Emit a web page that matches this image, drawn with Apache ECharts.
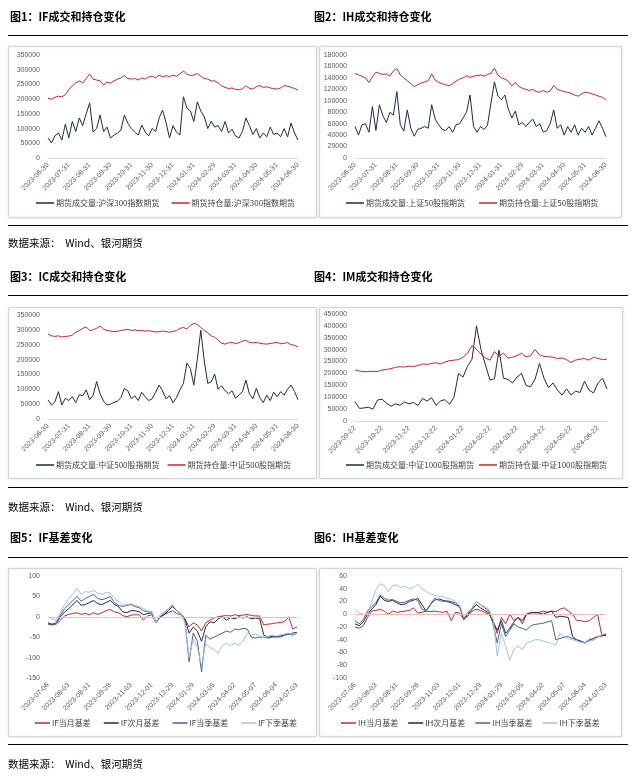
<!DOCTYPE html>
<html><head><meta charset="utf-8">
<script src="https://cdn.jsdelivr.net/npm/echarts@6/dist/echarts.min.js"></script>
<style>html,body{margin:0;padding:0;background:#fff}#c{width:637px;height:780px}</style>
</head><body><div id="c"></div><script>
// ---------- categories ----------
const datesA = ['2023-06-30',
'2023-07-05','2023-07-10','2023-07-14','2023-07-19','2023-07-25','2023-07-31',
'2023-08-04','2023-08-10','2023-08-15','2023-08-21','2023-08-25','2023-08-31',
'2023-09-06','2023-09-11','2023-09-15','2023-09-20','2023-09-25','2023-09-30',
'2023-10-11','2023-10-16','2023-10-19','2023-10-24','2023-10-27','2023-10-31',
'2023-11-06','2023-11-10','2023-11-15','2023-11-20','2023-11-24','2023-11-30',
'2023-12-06','2023-12-11','2023-12-15','2023-12-20','2023-12-25','2023-12-31',
'2024-01-05','2024-01-10','2024-01-15','2024-01-19','2024-01-25','2024-01-31',
'2024-02-05','2024-02-08','2024-02-20','2024-02-23','2024-02-27','2024-02-29',
'2024-03-06','2024-03-11','2024-03-15','2024-03-20','2024-03-25','2024-03-31',
'2024-04-08','2024-04-12','2024-04-17','2024-04-22','2024-04-25','2024-04-30',
'2024-05-08','2024-05-13','2024-05-16','2024-05-21','2024-05-24','2024-05-31',
'2024-06-05','2024-06-11','2024-06-14','2024-06-19','2024-06-24','2024-06-30'];
const ticksA = ['2023-06-30','2023-07-31','2023-08-31','2023-09-30','2023-10-31','2023-11-30','2023-12-31',
'2024-01-31','2024-02-29','2024-03-31','2024-04-30','2024-05-31','2024-06-30'];

const datesB = ['2023-09-22',
'2023-09-27','2023-10-09','2023-10-12','2023-10-16','2023-10-19','2023-10-22',
'2023-10-26','2023-10-31','2023-11-06','2023-11-10','2023-11-16','2023-11-22',
'2023-11-27','2023-12-01','2023-12-06','2023-12-11','2023-12-15','2023-12-22',
'2023-12-27','2024-01-02','2024-01-05','2024-01-10','2024-01-16','2024-01-22',
'2024-01-26','2024-01-31','2024-02-05','2024-02-08','2024-02-19','2024-02-22',
'2024-02-27','2024-03-01','2024-03-06','2024-03-11','2024-03-15','2024-03-22',
'2024-03-27','2024-04-01','2024-04-08','2024-04-12','2024-04-17','2024-04-22',
'2024-04-25','2024-04-30','2024-05-09','2024-05-14','2024-05-17','2024-05-22',
'2024-05-27','2024-05-31','2024-06-05','2024-06-11','2024-06-17','2024-06-22',
'2024-06-27','2024-07-03'];
const ticksB = ['2023-09-22','2023-10-22','2023-11-22','2023-12-22','2024-01-22','2024-02-22',
'2024-03-22','2024-04-22','2024-05-22','2024-06-22'];

const datesC = ['2023-07-06','2023-07-12','2023-07-18','2023-07-24','2023-07-28',
'2023-08-03','2023-08-09','2023-08-15','2023-08-21','2023-08-25',
'2023-08-31','2023-09-06','2023-09-12','2023-09-18','2023-09-22',
'2023-09-28','2023-10-13','2023-10-19','2023-10-25','2023-10-31',
'2023-11-03','2023-11-09','2023-11-15','2023-11-21','2023-11-27',
'2023-12-01','2023-12-07','2023-12-13','2023-12-19','2023-12-25',
'2023-12-29','2024-01-05','2024-01-11','2024-01-17','2024-01-23',
'2024-01-29','2024-02-02','2024-02-08','2024-02-23','2024-02-29',
'2024-03-05','2024-03-11','2024-03-15','2024-03-21','2024-03-27',
'2024-04-02','2024-04-10','2024-04-16','2024-04-22','2024-04-26',
'2024-05-07','2024-05-13','2024-05-17','2024-05-23','2024-05-29',
'2024-06-04','2024-06-11','2024-06-17','2024-06-21','2024-06-27',
'2024-07-03'];
const ticksC = ['2023-07-06','2023-08-03','2023-08-31','2023-09-28','2023-11-03','2023-12-01','2023-12-29',
'2024-01-29','2024-03-05','2024-04-02','2024-05-07','2024-06-04','2024-07-03'];

// ---------- series values ----------
const ifVol = [68000,51000,75000,85000,61000,115000,68000,124000,90000,136000,110000,150000,187000,88000,100000,146000,90000,105000,68000,78000,85000,95000,146000,118000,100000,88000,78000,112000,88000,75000,100000,90000,136000,163000,120000,68000,110000,88000,78000,208000,170000,160000,124000,191000,160000,140000,100000,125000,105000,110000,90000,124000,85000,98000,75000,68000,90000,136000,110000,80000,100000,68000,85000,72000,105000,80000,85000,72000,100000,72000,119000,85000,61000];
const ifOI = [203000,200000,206000,210000,208000,215000,232000,245000,255000,262000,255000,270000,285000,268000,265000,262000,248000,258000,255000,262000,268000,272000,280000,270000,268000,270000,265000,272000,268000,275000,278000,272000,282000,275000,280000,276000,282000,278000,286000,296000,285000,280000,282000,287000,278000,270000,268000,262000,262000,255000,245000,240000,236000,238000,233000,232000,235000,245000,237000,234000,243000,246000,240000,242000,238000,236000,234000,238000,246000,244000,240000,236000,231000];

const ihVol = [55000,40000,58000,60000,45000,90000,48000,93000,74000,62000,80000,75000,116000,58000,47000,84000,52000,38000,50000,52000,55000,52000,93000,68000,58000,50000,48000,55000,45000,58000,60000,70000,80000,110000,55000,45000,55000,50000,57000,96000,133000,108000,102000,110000,85000,70000,82000,58000,62000,55000,62000,68000,55000,60000,45000,48000,60000,84000,52000,58000,40000,55000,45000,58000,40000,52000,45000,55000,40000,52000,65000,52000,37000];
const ihOI = [148000,145000,143000,140000,132000,142000,150000,148000,146000,147000,143000,152000,156000,145000,140000,135000,130000,125000,128000,131000,133000,135000,147000,136000,132000,130000,128000,126000,130000,134000,138000,140000,144000,141000,143000,144000,145000,143000,146000,148000,157000,145000,140000,138000,134000,126000,132000,125000,122000,120000,118000,120000,116000,115000,118000,115000,117000,127000,120000,118000,116000,115000,113000,110000,108000,112000,115000,114000,112000,110000,108000,106000,102000];

const icVol = [64000,47000,58000,92000,47000,70000,62000,75000,55000,82000,78000,98000,65000,80000,126000,85000,60000,47000,50000,56000,60000,72000,103000,95000,68000,78000,62000,90000,75000,62000,68000,90000,114000,95000,68000,78000,55000,72000,98000,120000,188000,170000,114000,200000,299000,195000,120000,125000,151000,100000,112000,95000,85000,95000,70000,80000,92000,131000,85000,68000,103000,72000,55000,80000,62000,90000,75000,92000,80000,100000,114000,92000,65000];
const icOI = [286000,280000,278000,280000,276000,278000,279000,282000,292000,298000,305000,310000,298000,300000,305000,313000,302000,298000,296000,294000,295000,298000,300000,302000,298000,300000,297000,298000,296000,297000,295000,293000,294000,296000,294000,292000,295000,297000,305000,308000,303000,315000,322000,318000,308000,298000,290000,280000,275000,265000,255000,252000,256000,258000,253000,257000,262000,265000,258000,256000,258000,255000,253000,252000,254000,256000,258000,253000,255000,257000,250000,248000,242000];

const imVol = [81000,53000,55000,58000,50000,88000,92000,75000,62000,72000,66000,80000,72000,78000,65000,95000,84000,98000,66000,84000,90000,70000,100000,200000,185000,230000,260000,400000,300000,235000,172000,178000,298000,180000,175000,160000,185000,200000,150000,144000,175000,242000,180000,140000,160000,130000,109000,135000,109000,125000,120000,167000,130000,118000,160000,180000,135000];
const imOI = [215000,210000,207000,208000,209000,208000,214000,217000,220000,226000,228000,227000,231000,229000,233000,240000,238000,242000,245000,240000,248000,254000,256000,258000,268000,285000,316000,302000,282000,265000,256000,292000,272000,285000,265000,268000,275000,285000,270000,274000,301000,278000,272000,270000,268000,263000,265000,258000,246000,256000,260000,263000,256000,268000,263000,258000,260000];

const ifB1 = [-18,-20,-18,-8,2,6,8,10,6,8,5,10,6,10,15,18,12,10,3,0,4,5,5,-8,2,5,-12,0,5,10,15,8,5,-5,-25,-15,-20,-35,-15,-8,-3,0,2,3,2,5,3,4,6,3,2,2,-20,-18,-17,-15,-14,-12,0,-30,-25];
const ifB2 = [-15,-18,-15,0,12,20,30,40,28,30,35,40,32,30,35,40,30,25,12,10,15,15,12,5,8,10,-15,0,5,15,25,15,8,-5,-40,-25,-35,-60,-25,-12,-15,-5,0,-8,-2,-5,0,-3,0,-5,-3,-5,-45,-50,-48,-50,-47,-45,-42,-40,-38];
const ifB3 = [-15,-20,-15,5,20,30,40,50,38,45,50,55,45,42,45,50,35,28,25,28,30,25,22,15,12,12,-15,0,8,20,28,15,8,-10,-110,-40,-60,-135,-45,-55,-50,-45,-40,-35,-38,-30,-32,-28,-30,-50,-52,-50,-50,-52,-50,-48,-50,-45,-42,-45,-40];
const ifB4 = [0,-5,-10,10,30,45,55,70,55,62,60,65,58,55,60,58,45,38,28,30,32,28,25,20,15,12,-15,5,12,20,30,15,8,-15,-100,-55,-75,-120,-65,-75,-80,-90,-70,-65,-70,-65,-70,-60,-40,-45,-42,-48,-50,-48,-45,-47,-44,-42,-40,-43,-40];

const ihB1 = [-20,-22,-18,-5,5,6,8,5,0,5,3,4,5,6,10,2,3,5,4,5,4,3,5,-10,3,2,-8,-3,5,8,6,3,0,-10,-30,-5,-15,0,-10,-5,-15,0,3,2,3,5,3,5,4,8,10,5,0,-10,-10,-12,-10,-5,0,-33,-32];
const ihB2 = [-15,-18,-12,0,8,15,28,22,20,22,18,15,16,20,22,25,15,5,15,22,24,22,20,18,15,12,-8,0,8,15,10,6,2,-12,-25,-10,-30,-22,-12,-5,-10,0,2,3,2,0,3,5,-5,-3,-4,-5,-35,-40,-42,-45,-40,-38,-35,-34,-33];
const ihB3 = [-10,-15,-8,5,12,18,30,25,22,23,20,18,19,22,24,22,8,5,15,25,22,20,21,20,18,12,-8,2,10,20,15,10,5,-15,-45,-15,-35,-25,-15,-20,-22,-25,-18,-16,-15,-14,-12,-10,-40,-38,-36,-35,-38,-40,-44,-45,-42,-40,-36,-33,-31];
const ihB4 = [8,2,0,0,20,38,48,45,35,45,46,42,44,40,42,47,40,36,32,30,28,28,25,24,20,15,-5,3,10,20,15,12,8,-5,-65,-30,-50,-72,-55,-50,-55,-45,-43,-40,-40,-42,-44,-46,-48,-30,-35,-38,-40,-42,-44,-45,-42,-40,-36,-32,-30];

// ---------- styling ----------
const RED = '#c0272d', NAVY = '#1c2a4a', MID = '#3f639c', LIGHT = '#a6bfdd';
const LBL = '#595959';
const CJK = '"Noto Sans CJK SC", sans-serif';

const grids = [
  {left:48, top:55, width:250, height:103},
  {left:355, top:55, width:251, height:103},
  {left:48, top:315, width:250, height:104},
  {left:355, top:314, width:252, height:107},
  {left:48, top:576, width:249, height:102},
  {left:355, top:576, width:251, height:102}
].map(g => Object.assign({outerBoundsMode:'none', containLabel:false}, g));

function xAx(gi, cats, ticks, showLine) {
  return {type:'category', gridIndex:gi, data:cats, boundaryGap:false,
    axisTick:{show:false},
    axisLine:{show:showLine, lineStyle:{color:'#d9d9d9', width:1}},
    axisLabel:{rotate:45, fontSize:7, color:LBL, margin:6, fontFamily:'"Liberation Sans", Arial, sans-serif',
      interval:(i, v) => ticks.indexOf(v) >= 0, showMinLabel:true, showMaxLabel:true},
    splitLine:{show:false}};
}
function yAx(gi, min, max, step) {
  return {type:'value', gridIndex:gi, min:min, max:max, interval:step,
    axisLine:{show:false}, axisTick:{show:false}, splitLine:{show:false},
    axisLabel:{fontSize:7, color:LBL, margin:8, fontFamily:'"Liberation Sans", Arial, sans-serif',
      formatter:v => String(v)}};
}
function line(name, data, color, gi, extra) {
  return Object.assign({type:'line', name:name, data:data, xAxisIndex:gi, yAxisIndex:gi,
    symbol:'none', lineStyle:{width:1, color:color}, itemStyle:{color:color}, animation:false}, extra || {});
}
const zeroLine = {markLine:{silent:true, symbol:'none', label:{show:false},
  lineStyle:{color:'#efb9b9', width:1, type:'solid'}, data:[{yAxis:0}]}};

const N1a='期货成交量:沪深300指数期货', N1b='期货持仓量:沪深300指数期货';
const N2a='期货成交量:上证50股指期货', N2b='期货持仓量:上证50股指期货';
const N3a='期货成交量:中证500股指期货', N3b='期货持仓量:中证500股指期货';
const N4a='期货成交量:中证1000股指期货', N4b='期货持仓量:中证1000股指期货';
const N5 = ['IF当月基差','IF次月基差','IF当季基差','IF下季基差'];
const N6 = ['IH当月基差','IH次月基差','IH当季基差','IH下季基差'];

function legend(left, top, names, w, gap) {
  return {left:left, top:top, padding:0, itemGap:gap, itemWidth:w, itemHeight:1.5, icon:'rect',
    data:names, selectedMode:false,
    textStyle:{fontSize:8, color:'#404040', fontFamily:CJK, padding:[0,0,0,-3]}};
}

// ---------- static page texts ----------
const titles = [
  ['图1：IF成交和持仓变化', 10, 17], ['图2：IH成交和持仓变化', 314, 17],
  ['图3：IC成交和持仓变化', 10, 277], ['图4：IM成交和持仓变化', 314, 277],
  ['图5：IF基差变化', 10, 538], ['图6：IH基差变化', 314, 538]
];
const sources = [243, 507, 764];
const rules = [35, 225, 295, 487, 557, 744];
const boxes = [[8,46,308,171],[319,46,302,171],[8,307,308,171],[319,307,303,171],[8,568,308,168],[319,568,302,168]];

const graphic = [];
boxes.forEach(b => graphic.push({type:'rect', z:-10, shape:{x:b[0]+0.5, y:b[1]+0.5, width:b[2], height:b[3]},
  style:{fill:'#fff', stroke:'#d6d6d6', lineWidth:1, shadowBlur:3, shadowColor:'rgba(0,0,0,0.12)'}}));
rules.forEach(y => graphic.push({type:'line', shape:{x1:8, y1:y+0.5, x2:628, y2:y+0.5},
  style:{stroke:'#000', lineWidth:1}}));
titles.forEach(t => graphic.push({type:'text', x:t[1], y:t[2],
  style:{text:t[0], fill:'#000', font:'bold 11px ' + CJK, verticalAlign:'middle'}}));
sources.forEach(y => graphic.push({type:'text', x:8, y:y,
  style:{text:'数据来源：  Wind、银河期货', fill:'#000', font:'10.5px ' + CJK, verticalAlign:'middle'}}));

const option = {
  backgroundColor:'#fff',
  animation:false,
  grid:grids,
  xAxis:[xAx(0,datesA,ticksA,true), xAx(1,datesA,ticksA,true), xAx(2,datesA,ticksA,true),
         xAx(3,datesB,ticksB,true), xAx(4,datesC,ticksC,false), xAx(5,datesC,ticksC,false)],
  yAxis:[yAx(0,0,350000,50000), yAx(1,0,180000,20000), yAx(2,0,350000,50000),
         yAx(3,0,450000,50000), yAx(4,-150,100,50), yAx(5,-100,60,20)],
  legend:[
    legend(36,199,[N1a,N1b],18,12), legend(346,199,[N2a,N2b],18,14),
    legend(36,461,[N3a,N3b],18,8), legend(346,461,[N4a,N4b],18,5),
    legend(35,719,N5,15,13), legend(341,719,N6,15,10)
  ],
  graphic:graphic,
  series:[
    line(N1a, ifVol, NAVY, 0), line(N1b, ifOI, RED, 0),
    line(N2a, ihVol, NAVY, 1), line(N2b, ihOI, RED, 1),
    line(N3a, icVol, NAVY, 2), line(N3b, icOI, RED, 2),
    line(N4a, imVol, NAVY, 3), line(N4b, imOI, RED, 3),
    line(N5[0], ifB1, RED, 4, zeroLine), line(N5[1], ifB2, NAVY, 4), line(N5[2], ifB3, MID, 4), line(N5[3], ifB4, LIGHT, 4),
    line(N6[0], ihB1, RED, 5, zeroLine), line(N6[1], ihB2, NAVY, 5), line(N6[2], ihB3, MID, 5), line(N6[3], ihB4, LIGHT, 5)
  ]
};
const chart = echarts.init(document.getElementById('c'), null, {renderer:'canvas'});
chart.setOption(option);
</script></body></html>
